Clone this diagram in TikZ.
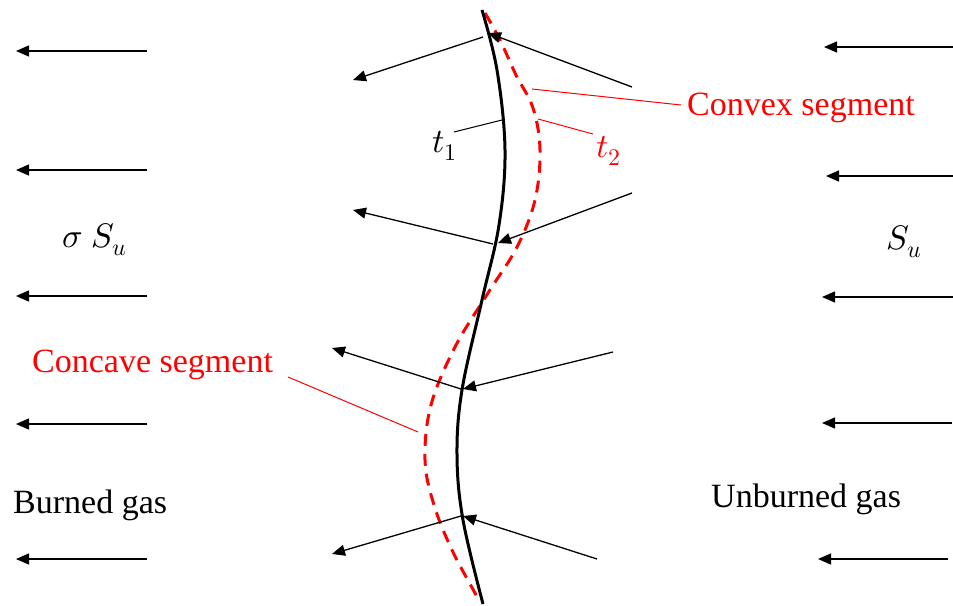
\documentclass[tikz,border=0pt]{standalone}
\usepackage{fontspec}
\usepackage{unicode-math}
\setmainfont{Liberation Serif}
\setmathfont{Latin Modern Math}
\usetikzlibrary{arrows.meta}

\begin{document}
\begin{tikzpicture}[
  x=1pt, y=-1pt,
  >={Triangle[length=13pt, width=11pt]},
  font=\fontsize{34}{40}\selectfont,
  flow/.style={->, line width=1.3pt, black},
  front/.style={line width=3pt, black},
  frontold/.style={line width=3pt, red, dash pattern=on 12pt off 8pt},
  lead/.style={line width=1pt, black},
  redlead/.style={line width=1pt, red},
  txt/.style={inner sep=0pt, anchor=base west},
  segtxt/.style={txt, text=red}
]

\useasboundingbox (0,0) rectangle (953,605);

\foreach \i/\y in {1/51, 2/170, 3/296, 4/424, 5/559} {
  \coordinate (bs\i) at (147,\y);
  \coordinate (be\i) at (16,\y);
  \draw[flow] (bs\i) -- (be\i);
}
\foreach \i/\y/\xs/\xt in {1/47/953/824, 2/176/953/826, 3/297/953/822, 4/423/952/822, 5/559/948/818} {
  \coordinate (us\i) at (\xs,\y);
  \coordinate (ue\i) at (\xt,\y);
  \draw[flow] (us\i) -- (ue\i);
}

\draw[frontold] plot[smooth, tension=0.6] coordinates {
  (485,13) (500,40) (516,75) (533,108) (540,150) (535,200) (517,247)
  (488,293) (455,347) (431,405) (425,460) (434,505) (452,550) (475,593) (480,602)};
\draw[front] plot[smooth, tension=0.6] coordinates {
  (482,10) (497,70) (505,150) (499,225) (482,300) (462,390) (457,455)
  (463,520) (483,604)};

\coordinate (u1) at (632,87);   \coordinate (f1in) at (488,33);
\coordinate (f1out) at (483,37); \coordinate (b1) at (353,80);
\coordinate (u2) at (632,193);  \coordinate (f2in) at (498,243);
\coordinate (f2out) at (493,244); \coordinate (b2) at (353,210);
\coordinate (u3) at (613,352);  \coordinate (f3in) at (463,389);
\coordinate (f3out) at (461,389); \coordinate (b3) at (332,348);
\coordinate (u4) at (597,559);  \coordinate (f4in) at (463,516);
\coordinate (f4out) at (461,516); \coordinate (b4) at (332,554);
\foreach \i in {1,...,4} {
  \draw[flow] (u\i) -- (f\i in);
  \draw[flow] (f\i out) -- (b\i);
}

\node[txt] (sigsu) at (62,247) {$\sigma\;S_u$};
\node[txt] (su) at (886,249) {$S_u$};
\node[txt] (burned) at (13,513) {Burned gas};
\node[txt] (unburned) at (711,507) {Unburned gas};
\node[segtxt] (convex) at (687,115) {Convex segment};
\node[segtxt] (concave) at (32,372) {Concave segment};
\node[txt] (tone) at (432,152) {$t_1$};
\node[segtxt] (ttwo) at (596,157) {$t_2$};

\coordinate (cvxtail) at (681,105);  \coordinate (cvxpt) at (532,89);
\coordinate (ccvtail) at (288,377);  \coordinate (ccvpt) at (418,432);
\coordinate (tonetail) at (454,132); \coordinate (tonept) at (502,120);
\coordinate (ttwotail) at (593,134); \coordinate (ttwopt) at (538,119);
\draw[redlead] (cvxtail) -- (cvxpt);
\draw[redlead] (ccvtail) -- (ccvpt);
\draw[lead] (tonetail) -- (tonept);
\draw[redlead] (ttwotail) -- (ttwopt);

\end{tikzpicture}
\end{document}
